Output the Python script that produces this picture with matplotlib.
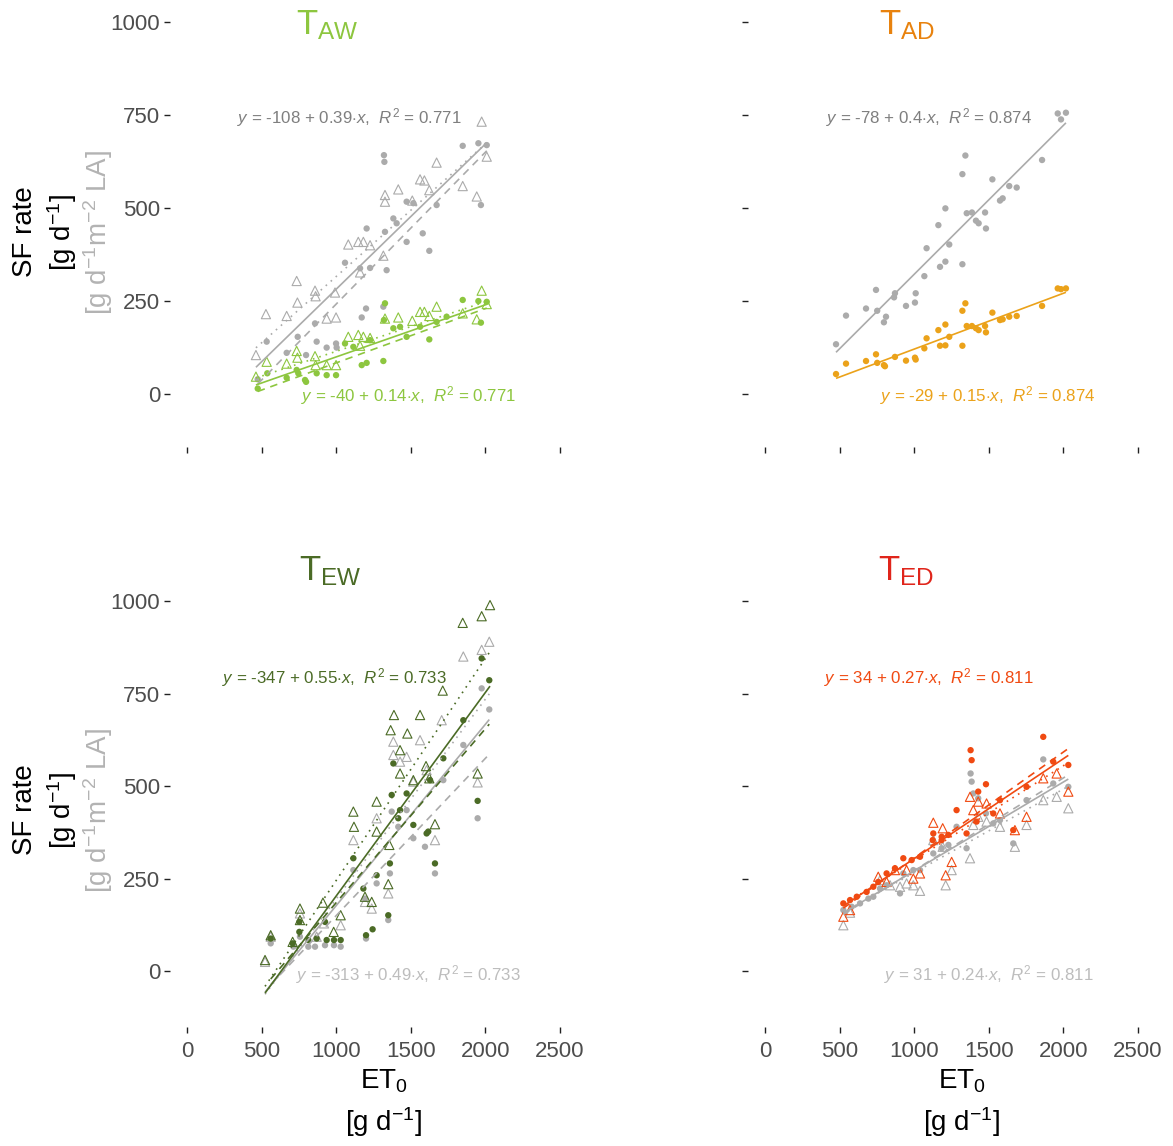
import numpy as np
import matplotlib
matplotlib.use("Agg")
import matplotlib.pyplot as plt

plt.rcParams['font.family'] = ['Liberation Sans', 'DejaVu Sans']
plt.rcParams['mathtext.fontset'] = 'custom'
plt.rcParams['mathtext.rm'] = 'Liberation Sans'
plt.rcParams['mathtext.it'] = 'Liberation Sans:italic'
plt.rcParams['mathtext.bf'] = 'Liberation Sans:bold'

# ---------------- data ----------------
xticks = [0, 500, 1000, 1500, 2000, 2500]
yticks = [0, 250, 500, 750, 1000]

# T_AW
taw_gray_dot_x = [474, 534, 668, 742, 798, 858, 869, 936, 999, 1003, 1171, 1200, 1316, 1059, 1160, 1227, 1338, 1204, 1327,
                  1383, 1405, 1472, 1580, 1624, 1320, 1323, 1472, 1517, 1673, 1848, 1953, 2009, 1970]
taw_gray_dot_y = [40, 141, 111, 154, 105, 190, 141, 125, 136, 125, 206, 230, 235, 353, 338, 339, 333, 445, 436,
                  472, 459, 409, 432, 385, 642, 624, 517, 513, 508, 667, 674, 669, 508]
taw_gray_tri_x = [462, 529, 668, 735, 740, 858, 862, 936, 999, 992, 1081, 1148, 1182, 1227, 1160, 1316, 1327, 1327, 1416,
                  1510, 1562, 1591, 1624, 1673, 1848, 1942, 1975, 2009]
taw_gray_tri_y = [105, 215, 210, 304, 246, 278, 263, 203, 206, 273, 402, 409, 409, 400, 327, 372, 535, 517, 550,
                  520, 577, 574, 548, 622, 559, 531, 732, 638]
taw_col_dot_x = [474, 538, 668, 735, 746, 791, 798, 869, 936, 999, 1171, 1204, 1316, 1059, 1115, 1227, 1320, 1327, 1383,
                 1428, 1472, 1562, 1624, 1673, 1740, 1848, 1953, 2009, 1970]
taw_col_dot_y = [15, 56, 44, 65, 56, 38, 33, 56, 51, 51, 78, 84, 89, 136, 127, 145, 199, 244, 177,
                 181, 154, 181, 147, 194, 208, 253, 250, 248, 192]
taw_col_tri_x = [462, 534, 668, 735, 740, 858, 862, 936, 999, 1081, 1148, 1182, 1227, 1160, 1327, 1416, 1510, 1562, 1591,
                 1624, 1673, 1848, 1942, 1975, 2009]
taw_col_tri_y = [47, 87, 82, 116, 98, 102, 78, 78, 78, 154, 159, 154, 151, 130, 203, 206, 197, 221, 221,
                 210, 235, 217, 201, 278, 242]
# fits: [intercept, slope] for all / dots / triangles
taw_gray_fit = [-108, 0.39]
taw_gray_fit_dot = [-166, 0.408]
taw_gray_fit_tri = [-40, 0.356]
taw_col_fit = [-40, 0.14]
taw_col_fit_dot = [-62, 0.146]
taw_col_fit_tri = [-18, 0.133]

# T_AD (dots only)
tad_gray_dot_x = [476, 543, 677, 744, 752, 797, 811, 865, 871, 945, 1005, 1010, 1068, 1083, 1162, 1173, 1209, 1209, 1235,
                  1323, 1323, 1343, 1352, 1387, 1414, 1432, 1475, 1481, 1524, 1575, 1593, 1637, 1687, 1857, 1962, 1984, 2017]
tad_gray_dot_y = [134, 211, 230, 280, 224, 193, 208, 260, 271, 237, 246, 271, 317, 392, 454, 342, 499, 356, 402,
                  349, 591, 641, 486, 488, 466, 459, 488, 445, 577, 520, 526, 559, 555, 629, 754, 738, 756]
tad_col_dot_x = [476, 543, 677, 744, 752, 797, 804, 871, 945, 1005, 1010, 1068, 1083, 1162, 1173, 1209, 1209, 1235,
                 1323, 1323, 1343, 1352, 1387, 1414, 1432, 1475, 1481, 1524, 1575, 1593, 1637, 1687, 1857, 1962, 1984, 2017]
tad_col_dot_y = [54, 82, 89, 107, 84, 78, 75, 100, 90, 98, 93, 123, 150, 172, 130, 187, 131, 154,
                 224, 130, 244, 183, 183, 177, 172, 183, 166, 219, 199, 201, 208, 210, 237, 284, 282, 284]
tad_gray_fit = [-78, 0.4]
tad_col_fit = [-29, 0.15]

# T_EW
tew_gray_dot_x = [561, 713, 757, 813, 858, 925, 985, 1030, 1115, 1193, 1200, 1271, 1349, 1360, 1372, 1416, 1472, 1517,
                  1595, 1662, 1718, 1852, 1948, 1975, 2026]
tew_gray_dot_y = [75, 66, 93, 66, 66, 70, 70, 66, 273, 196, 88, 237, 138, 264, 431, 390, 435, 359,
                  336, 264, 516, 611, 413, 764, 707]
tew_gray_tri_x = [523, 561, 757, 869, 918, 1030, 1115, 1193, 1238, 1271, 1349, 1383, 1383, 1428, 1472, 1517, 1562, 1606,
                  1662, 1707, 1852, 1948, 1975, 2026]
tew_gray_tri_y = [25, 93, 156, 93, 129, 124, 354, 187, 169, 413, 210, 584, 620, 566, 579, 512, 624, 543,
                  354, 678, 850, 510, 868, 890]
tew_col_dot_x = [561, 708, 753, 753, 813, 869, 925, 936, 985, 1030, 1115, 1182, 1200, 1244, 1271, 1349, 1360, 1372, 1383,
                 1428, 1416, 1472, 1517, 1606, 1617, 1662, 1629, 1718, 1852, 1948, 1975, 2026]
tew_col_dot_y = [88, 75, 133, 106, 84, 88, 133, 84, 84, 84, 305, 223, 97, 113, 259, 151, 291, 476, 561,
                 435, 413, 480, 395, 372, 377, 291, 516, 575, 678, 460, 845, 786]
tew_col_tri_x = [523, 561, 708, 757, 757, 911, 983, 1030, 1115, 1119, 1193, 1238, 1271, 1271, 1356, 1349, 1387, 1365,
                 1428, 1477, 1562, 1428, 1517, 1602, 1624, 1662, 1714, 1848, 1975, 2031, 1948]
tew_col_tri_y = [30, 97, 79, 169, 138, 185, 106, 151, 431, 390, 201, 187, 458, 377, 341, 235, 692, 651,
                 597, 642, 692, 534, 516, 554, 521, 397, 758, 941, 959, 989, 534]
tew_gray_fit = [-313, 0.49]
tew_gray_fit_dot = [-275, 0.425]
tew_gray_fit_tri = [-345, 0.54]
tew_col_fit = [-347, 0.55]
tew_col_fit_dot = [-285, 0.47]
tew_col_fit_tri = [-355, 0.60]

# T_ED
ted_gray_dot_x = [525, 581, 637, 693, 726, 771, 815, 905, 927, 994, 1039, 1128, 1184, 1229, 1284, 1351, 1378, 1385,
                  1429, 1481, 1530, 1575, 1664, 1753, 1865, 1932, 2033, 1396]
ted_gray_dot_y = [165, 174, 183, 196, 201, 223, 232, 210, 264, 273, 273, 318, 332, 341, 390, 332, 534, 512,
                  467, 426, 399, 408, 345, 462, 572, 507, 498, 480]
ted_gray_tri_x = [525, 570, 771, 838, 905, 949, 994, 1039, 1128, 1191, 1211, 1251, 1374, 1396, 1429, 1485, 1575, 1675,
                  1753, 1865, 1955, 2033]
ted_gray_tri_y = [124, 158, 246, 232, 228, 237, 232, 217, 354, 336, 232, 273, 305, 395, 417, 404, 390, 336,
                  395, 462, 471, 440]
ted_col_dot_x = [525, 570, 615, 681, 726, 759, 815, 871, 927, 983, 1039, 1128, 1124, 1184, 1229, 1284, 1351, 1378, 1385,
                 1429, 1481, 1530, 1575, 1664, 1753, 1865, 1932, 2033, 1418, 1184]
ted_col_dot_y = [183, 192, 201, 214, 228, 241, 264, 278, 305, 300, 309, 372, 354, 363, 368, 435, 372, 597, 570,
                 485, 505, 426, 462, 381, 498, 633, 566, 557, 404, 354]
ted_col_tri_x = [525, 570, 759, 815, 871, 949, 994, 1039, 1128, 1191, 1211, 1251, 1374, 1396, 1429, 1485, 1575, 1675,
                 1753, 1865, 1955, 2033]
ted_col_tri_y = [147, 165, 255, 241, 273, 273, 250, 264, 401, 386, 259, 295, 471, 435, 458, 453, 426, 381,
                 417, 521, 534, 485]
ted_gray_fit = [31, 0.24]
ted_gray_fit_dot = [22, 0.25]
ted_gray_fit_tri = [40, 0.226]
ted_col_fit = [34, 0.27]
ted_col_fit_dot = [20, 0.286]
ted_col_fit_tri = [45, 0.255]

# R2 values
taw_r2, tad_r2, tew_r2, ted_r2 = 0.771, 0.874, 0.733, 0.811

# ---------------- figure ----------------
W, H = 1173, 1146
fig = plt.figure(figsize=(W / 100, H / 100), dpi=100)

GRAY = '#ABABAB'
TICKC = '#4D4D4D'


def add_ax(l, t, r, b):
    return fig.add_axes([l / W, 1 - b / H, (r - l) / W, (b - t) / H])


def style(ax, ylim, xlab, ylab):
    ax.set_xlim(-114, 2614)
    ax.set_ylim(*ylim)
    for s in ax.spines.values():
        s.set_visible(False)
    ax.set_xticks(xticks)
    ax.set_yticks(yticks)
    ax.tick_params(direction='out', length=4, width=1.0, color='#222222',
                   labelsize=16, labelcolor=TICKC, pad=3)
    if not xlab:
        ax.set_xticklabels([])
    else:
        ax.tick_params(axis='x', pad=6)
    if not ylab:
        ax.set_yticklabels([])
    ax.patch.set_alpha(0)


def fitline(ax, xs, fit, color, ls):
    xs = np.array(xs, dtype=float)
    xr = np.array([xs.min(), xs.max()])
    ax.plot(xr, fit[0] + fit[1] * xr, color=color, lw=1.2, ls=ls, zorder=5,
            solid_capstyle='butt', dash_capstyle='butt')


def points(ax, dx, dy, tx, ty, color, z):
    ax.scatter(dx, dy, s=21, color=color, edgecolors='none', zorder=z)
    if tx is not None:
        ax.scatter(tx, ty, s=44, marker='^', facecolors='none', edgecolors=color,
                   linewidths=0.8, zorder=z)


def eq_text(x, y, fit, r2, color):
    a, b = fit
    sign = '-' if a < 0 else ''
    s = r'$y$ = %s%d + %s$\cdot$$x$,  $R^2$ = %.3f' % (sign, abs(a), ('%g' % b), r2)
    fig.text(x / W, 1 - y / H, s, color=color, fontsize=12.2, ha='left', va='center')


LINES = dict(all='-', dot=(0, (4.5, 3.5)), tri=(0, (1, 3)))

# ---- T_AW ----
ax = add_ax(170, 7, 577, 447)
style(ax, (-142, 1040), False, True)
col = '#8DC63F'
points(ax, taw_gray_dot_x, taw_gray_dot_y, taw_gray_tri_x, taw_gray_tri_y, GRAY, 2)
points(ax, taw_col_dot_x, taw_col_dot_y, taw_col_tri_x, taw_col_tri_y, col, 3)
fitline(ax, taw_gray_dot_x + taw_gray_tri_x, taw_gray_fit, GRAY, LINES['all'])
fitline(ax, taw_gray_dot_x, taw_gray_fit_dot, GRAY, LINES['dot'])
fitline(ax, taw_gray_tri_x, taw_gray_fit_tri, GRAY, LINES['tri'])
fitline(ax, taw_col_dot_x + taw_col_tri_x, taw_col_fit, col, LINES['all'])
fitline(ax, taw_col_dot_x, taw_col_fit_dot, col, LINES['dot'])
fitline(ax, taw_col_tri_x, taw_col_fit_tri, col, LINES['tri'])
eq_text(237, 118, taw_gray_fit, taw_r2, '#7F7F7F')
eq_text(301, 396, taw_col_fit, taw_r2, col)

# ---- T_AD ----
ax = add_ax(748, 7, 1155, 447)
style(ax, (-142, 1040), False, False)
col = '#EBA21A'
points(ax, tad_gray_dot_x, tad_gray_dot_y, None, None, GRAY, 2)
points(ax, tad_col_dot_x, tad_col_dot_y, None, None, col, 3)
fitline(ax, tad_gray_dot_x, tad_gray_fit, GRAY, LINES['all'])
fitline(ax, tad_col_dot_x, tad_col_fit, col, LINES['all'])
eq_text(826, 118, tad_gray_fit, tad_r2, '#7F7F7F')
eq_text(880, 396, tad_col_fit, tad_r2, col)

# ---- T_EW ----
ax = add_ax(170, 584, 577, 1027)
style(ax, (-151, 1046), True, True)
col = '#4B6B26'
points(ax, tew_gray_dot_x, tew_gray_dot_y, tew_gray_tri_x, tew_gray_tri_y, GRAY, 2)
points(ax, tew_col_dot_x, tew_col_dot_y, tew_col_tri_x, tew_col_tri_y, col, 3)
fitline(ax, tew_gray_dot_x + tew_gray_tri_x, tew_gray_fit, GRAY, LINES['all'])
fitline(ax, tew_gray_dot_x, tew_gray_fit_dot, GRAY, LINES['dot'])
fitline(ax, tew_gray_tri_x, tew_gray_fit_tri, GRAY, LINES['tri'])
fitline(ax, tew_col_dot_x + tew_col_tri_x, tew_col_fit, col, LINES['all'])
fitline(ax, tew_col_dot_x, tew_col_fit_dot, col, LINES['dot'])
fitline(ax, tew_col_tri_x, tew_col_fit_tri, col, LINES['tri'])
eq_text(222, 678, tew_col_fit, tew_r2, col)
eq_text(296, 975, tew_gray_fit, tew_r2, '#BDBDBD')

# ---- T_ED ----
ax = add_ax(748, 584, 1155, 1027)
style(ax, (-151, 1046), True, False)
col = '#F04A12'
points(ax, ted_gray_dot_x, ted_gray_dot_y, ted_gray_tri_x, ted_gray_tri_y, GRAY, 2)
points(ax, ted_col_dot_x, ted_col_dot_y, ted_col_tri_x, ted_col_tri_y, col, 3)
fitline(ax, ted_gray_dot_x + ted_gray_tri_x, ted_gray_fit, GRAY, LINES['all'])
fitline(ax, ted_gray_dot_x, ted_gray_fit_dot, GRAY, LINES['dot'])
fitline(ax, ted_gray_tri_x, ted_gray_fit_tri, GRAY, LINES['tri'])
fitline(ax, ted_col_dot_x + ted_col_tri_x, ted_col_fit, col, LINES['all'])
fitline(ax, ted_col_dot_x, ted_col_fit_dot, col, LINES['dot'])
fitline(ax, ted_col_tri_x, ted_col_fit_tri, col, LINES['tri'])
eq_text(824, 678, ted_col_fit, ted_r2, col)
eq_text(884, 975, ted_gray_fit, ted_r2, '#BDBDBD')

# ---- titles ----
titles = [(r'T$_{\mathrm{AW}}$', 327, 34, '#8DC63F'),
          (r'T$_{\mathrm{AD}}$', 907, 34, '#E8820E'),
          (r'T$_{\mathrm{EW}}$', 330, 580, '#4B6B26'),
          (r'T$_{\mathrm{ED}}$', 906, 580, '#E0251B')]
for s, x, y, c in titles:
    fig.text(x / W, 1 - y / H, s, color=c, fontsize=25, ha='center', va='baseline')

# ---- y labels ----
for yc in (232, 810):
    fig.text(25 / W, 1 - yc / H, 'SF rate', rotation=90, fontsize=20, color='black', ha='center', va='center')
    fig.text(62 / W, 1 - yc / H, r'[g d$^{-1}$]', rotation=90, fontsize=20, color='black', ha='center', va='center')
    fig.text(98 / W, 1 - yc / H, r'[g d$^{-1}$m$^{-2}$ LA]', rotation=90, fontsize=20, color='#B3B3B3',
             ha='center', va='center')

# ---- x labels ----
for xc in (384, 962):
    fig.text(xc / W, 1 - 1081 / H, r'ET$_0$', fontsize=20, color='black', ha='center', va='center')
    fig.text(xc / W, 1 - 1122 / H, r'[g d$^{-1}$]', fontsize=20, color='black', ha='center', va='center')

fig.savefig('out.png', dpi=100, facecolor='white')
